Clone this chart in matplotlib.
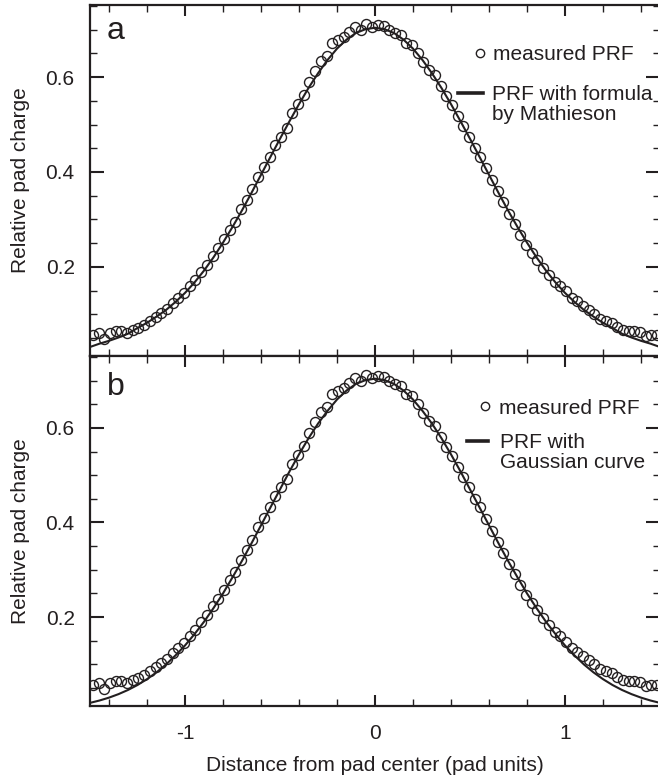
import numpy as np
import matplotlib
matplotlib.use('Agg')
import matplotlib.pyplot as plt
from matplotlib.lines import Line2D
from matplotlib.ticker import MultipleLocator, FixedLocator

plt.rcParams['font.family'] = ['Liberation Sans', 'DejaVu Sans']
plt.rcParams['axes.unicode_minus'] = False

ink = '#231f20'

# measured PRF, sampled every 0.03 pad units from -1.485 to 1.485
x_meas = np.round(np.arange(100) * 0.03 - 1.485, 3)
y_meas = [0.057, 0.061, 0.048, 0.060, 0.064, 0.064, 0.060, 0.067, 0.071, 0.078,
          0.085, 0.095, 0.103, 0.111, 0.124, 0.134, 0.145, 0.159, 0.173, 0.190,
          0.204, 0.223, 0.239, 0.258, 0.278, 0.295, 0.321, 0.341, 0.364, 0.390,
          0.410, 0.432, 0.457, 0.474, 0.492, 0.524, 0.543, 0.562, 0.590, 0.613,
          0.634, 0.644, 0.672, 0.678, 0.685, 0.695, 0.705, 0.700, 0.712, 0.705,
          0.709, 0.708, 0.700, 0.692, 0.688, 0.672, 0.667, 0.651, 0.632, 0.615,
          0.604, 0.581, 0.560, 0.541, 0.518, 0.497, 0.474, 0.450, 0.432, 0.408,
          0.383, 0.359, 0.336, 0.312, 0.291, 0.267, 0.246, 0.230, 0.215, 0.197,
          0.183, 0.169, 0.159, 0.148, 0.135, 0.127, 0.118, 0.109, 0.100, 0.090,
          0.085, 0.081, 0.073, 0.067, 0.064, 0.065, 0.062, 0.055, 0.057, 0.057]

# fitted curves, read every 0.05 from 0 to 1.5 (symmetric about 0)
x_half = [0.00, 0.05, 0.10, 0.15, 0.20, 0.25, 0.30, 0.35, 0.40, 0.45, 0.50,
          0.55, 0.60, 0.65, 0.70, 0.75, 0.80, 0.85, 0.90, 0.95, 1.00,
          1.05, 1.10, 1.15, 1.20, 1.25, 1.30, 1.35, 1.40, 1.45, 1.50]
mathieson_half = [0.704, 0.701, 0.693, 0.679, 0.660, 0.636, 0.608, 0.577, 0.543, 0.507, 0.470,
                  0.432, 0.394, 0.356, 0.319, 0.284, 0.251, 0.220, 0.192, 0.167, 0.145,
                  0.126, 0.109, 0.095, 0.082, 0.071, 0.059, 0.051, 0.044, 0.038, 0.031]
gauss_half = [0.704, 0.701, 0.693, 0.679, 0.660, 0.636, 0.609, 0.578, 0.544, 0.508, 0.470,
              0.432, 0.394, 0.356, 0.319, 0.284, 0.250, 0.219, 0.190, 0.164, 0.140,
              0.119, 0.0997, 0.0831, 0.0688, 0.0564, 0.0459, 0.0371, 0.0297, 0.0236, 0.0186]

x_curve = [-v for v in x_half[:0:-1]] + x_half
mathieson = mathieson_half[:0:-1] + mathieson_half
gauss = gauss_half[:0:-1] + gauss_half

panels = [
    ('a', mathieson, ['PRF with formula', 'by Mathieson']),
    ('b', gauss, ['PRF with', 'Gaussian curve']),
]

fig = plt.figure(figsize=(6.58, 7.8), dpi=100)
ax_a = fig.add_axes([90/658, 1-356/780, 570/658, 351/780])
ax_b = fig.add_axes([90/658, 1-706/780, 570/658, 350/780], sharex=ax_a)
axes = [ax_a, ax_b]

# legend placement (axes coords): circle legend, line legend, letter
leg_pos = [((0.673, 0.858), (0.6456, 0.716), (0.030, 0.903)),
           ((0.682, 0.851), (0.661, 0.724), (0.030, 0.888))]
pads = [(0.32, 0.43, 1.2), (0.37, 0.58, 1.0)]

for ax, (letter, curve, labels), pos, pad in zip(axes, panels, leg_pos, pads):
    ax.plot(x_curve, curve, color=ink, lw=1.5, zorder=2)
    ax.plot(x_meas, y_meas, 'o', ms=7.2, mfc='none', mec=ink, mew=1.0, zorder=3)
    ax.set_xlim(-1.5, 1.5)
    ax.set_ylim(0.012, 0.752)
    ax.set_ylabel('Relative pad charge', fontsize=15, color=ink, labelpad=11)
    ax.yaxis.set_major_locator(FixedLocator([0.2, 0.4, 0.6]))
    ax.yaxis.set_minor_locator(MultipleLocator(0.05))
    ax.xaxis.set_major_locator(FixedLocator([-1, 0, 1]))
    ax.xaxis.set_minor_locator(MultipleLocator(0.2))
    ax.tick_params(axis='both', which='both', direction='in', top=True, right=True,
                   colors=ink, labelsize=15)
    ax.tick_params(axis='y', which='major', length=10, width=1.5, pad=11)
    ax.tick_params(axis='x', which='major', length=8, width=1.5, pad=13)
    ax.tick_params(axis='both', which='minor', length=5, width=1.0)
    for s in ax.spines.values():
        s.set_linewidth(1.6)
        s.set_color(ink)
    ax.text(pos[2][0], pos[2][1], letter, transform=ax.transAxes, fontsize=23, color=ink)

    h_circ = Line2D([], [], ls='none', marker='o', ms=6, mfc='none', mec=ink, mew=1.0)
    leg1 = ax.legend([h_circ], ['measured PRF'], loc='center left', bbox_to_anchor=pos[0],
                     frameon=False, fontsize=15, handlelength=0.6, handletextpad=pad[0],
                     borderpad=0, borderaxespad=0, labelcolor=ink)
    ax.add_artist(leg1)
    h_line = Line2D([], [], color=ink, lw=2.6)
    h_none = Line2D([], [], ls='none')
    ax.legend([h_line, h_none], labels, loc='center left', bbox_to_anchor=pos[1],
              frameon=False, fontsize=15, handlelength=pad[2], handletextpad=pad[1],
              labelspacing=0.03, borderpad=0, borderaxespad=0, labelcolor=ink)

plt.setp(ax_a.get_xticklabels(), visible=False)
ax_b.set_xlabel('Distance from pad center (pad units)', fontsize=15, color=ink, labelpad=9)

fig.savefig('out.png', dpi=100)
